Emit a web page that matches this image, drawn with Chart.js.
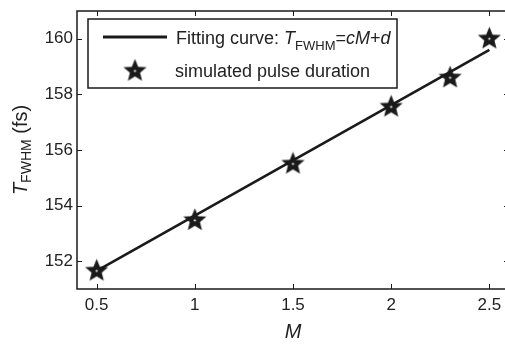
<!DOCTYPE html>
<html>
<head>
<meta charset="utf-8">
<script src="https://cdn.jsdelivr.net/npm/chart.js@4.4.1/dist/chart.umd.min.js"></script>
<style>
  html, body { margin: 0; padding: 0; background: #fff; overflow: hidden; }
  #wrap { width: 520px; height: 344px; }
</style>
</head>
<body>
<div id="wrap"><canvas id="fwhmChart" width="520" height="344"></canvas></div>
<script>
// values
var simM = [0.5, 1, 1.5, 2, 2.3, 2.5];
var simT = [151.65, 153.47, 155.5, 157.55, 158.6, 160.0];
var fitM = [0.5, 2.5];
var fitT = [151.65, 159.6];
var xTicks = [0.5, 1, 1.5, 2, 2.5];
var yTicks = [152, 154, 156, 158, 160];
var xRange = [0.4, 2.6];
var yRange = [151, 161];

var ink = '#1a1a1a';
var fontName = "'Liberation Sans', Arial, sans-serif";

// pentagram marker
function makeStar(r) {
  var size = Math.ceil(r * 2 + 4);
  var c = document.createElement('canvas');
  c.width = size; c.height = size;
  var g = c.getContext('2d');
  var cx = size / 2, cy = size / 2, ri = r * 0.44;
  g.beginPath();
  for (var i = 0; i < 10; i++) {
    var rad = (i % 2 === 0) ? r : ri;
    var a = -Math.PI / 2 + i * Math.PI / 5;
    var px = cx + rad * Math.cos(a), py = cy + rad * Math.sin(a);
    if (i === 0) g.moveTo(px, py); else g.lineTo(px, py);
  }
  g.closePath();
  g.fillStyle = ink;
  g.fill();
  g.lineWidth = 1.2;
  g.strokeStyle = ink;
  g.stroke();
  g.beginPath();
  g.arc(cx, cy, 1.1, 0, Math.PI * 2);
  g.fillStyle = '#fff';
  g.fill();
  return c;
}
var star = makeStar(10.5);

// draws a run of text pieces (for subscripts / italics)
function runWidth(ctx, runs) {
  var w = 0;
  runs.forEach(function(r) { ctx.font = r.font; w += ctx.measureText(r.t).width; });
  return w;
}
function drawRuns(ctx, runs, x, y) {
  ctx.textBaseline = 'alphabetic';
  ctx.textAlign = 'left';
  runs.forEach(function(r) {
    ctx.font = r.font;
    ctx.fillText(r.t, x, y + (r.dy || 0));
    x += ctx.measureText(r.t).width;
  });
}

var framePlugin = {
  id: 'frame',
  afterDraw: function(chart) {
    var ctx = chart.ctx, a = chart.chartArea;
    var sx = chart.scales.x, sy = chart.scales.y;
    ctx.save();
    ctx.strokeStyle = ink;
    ctx.fillStyle = ink;

    // box
    ctx.lineWidth = 1.5;
    ctx.strokeRect(a.left, a.top, a.right - a.left, a.bottom - a.top);

    // inward ticks on all sides
    ctx.lineWidth = 1;
    ctx.beginPath();
    xTicks.forEach(function(v) {
      var px = Math.round(sx.getPixelForValue(v)) + 0.5;
      ctx.moveTo(px, a.bottom); ctx.lineTo(px, a.bottom - 5);
      ctx.moveTo(px, a.top); ctx.lineTo(px, a.top + 5);
    });
    yTicks.forEach(function(v) {
      var py = Math.round(sy.getPixelForValue(v)) + 0.5;
      ctx.moveTo(a.left, py); ctx.lineTo(a.left + 5, py);
      ctx.moveTo(a.right, py); ctx.lineTo(a.right - 5, py);
    });
    ctx.stroke();

    // legend
    var lx = a.left + 11, ly = a.top + 8, lw = 309, lh = 69;
    ctx.fillStyle = '#fff';
    ctx.fillRect(lx, ly, lw, lh);
    ctx.lineWidth = 1.5;
    ctx.strokeStyle = ink;
    ctx.strokeRect(lx, ly, lw, lh);

    ctx.lineWidth = 3;
    ctx.beginPath();
    ctx.moveTo(lx + 15, ly + 18);
    ctx.lineTo(lx + 79, ly + 18);
    ctx.stroke();
    ctx.drawImage(star, lx + 47 - star.width / 2, ly + 52 - star.height / 2);

    ctx.fillStyle = '#222';
    var f = "18px " + fontName, fi = "italic 18px " + fontName, fs = "13px " + fontName;
    drawRuns(ctx, [
      { t: 'Fitting curve: ', font: f },
      { t: 'T', font: fi },
      { t: 'FWHM', font: fs, dy: 6 },
      { t: '=', font: f },
      { t: 'cM', font: fi },
      { t: '+', font: f },
      { t: 'd', font: fi }
    ], lx + 88, ly + 25);
    drawRuns(ctx, [{ t: 'simulated pulse duration', font: f }], lx + 87, ly + 58);

    // axis titles
    var tf = "20px " + fontName, tfi = "italic 20px " + fontName, tfs = "14px " + fontName;
    ctx.textAlign = 'center';
    ctx.font = tfi;
    ctx.fillText('M', sx.getPixelForValue(1.5), 338);

    var yRuns = [
      { t: 'T', font: tfi },
      { t: 'FWHM', font: tfs, dy: 4 },
      { t: ' (fs)', font: tf }
    ];
    var w = runWidth(ctx, yRuns);
    ctx.translate(27, (a.top + a.bottom) / 2);
    ctx.rotate(-Math.PI / 2);
    drawRuns(ctx, yRuns, -w / 2, 0);
    ctx.restore();
  }
};

var ctx = document.getElementById('fwhmChart');
new Chart(ctx, {
  type: 'scatter',
  data: {
    datasets: [
      {
        label: 'simulated pulse duration',
        data: simM.map(function(m, i) { return { x: m, y: simT[i] }; }),
        pointStyle: star,
        pointRadius: 10,
        showLine: false
      },
      {
        label: 'Fitting curve',
        data: fitM.map(function(m, i) { return { x: m, y: fitT[i] }; }),
        showLine: true,
        borderColor: ink,
        borderWidth: 2.6,
        pointRadius: 0,
        fill: false
      }
    ]
  },
  options: {
    responsive: false,
    animation: false,
    events: [],
    layout: { padding: { left: 0, top: 10, right: 0, bottom: 0 } },
    plugins: { legend: { display: false }, tooltip: { enabled: false } },
    scales: {
      x: {
        type: 'linear',
        min: xRange[0], max: xRange[1],
        grid: { display: false, drawTicks: false },
        border: { display: false },
        afterBuildTicks: function(s) { s.ticks = xTicks.map(function(v) { return { value: v }; }); },
        afterFit: function(s) { s.height = 55; s.paddingLeft = 0; s.paddingRight = 0; },
        ticks: {
          padding: 6,
          color: '#222',
          font: { family: fontName, size: 17 },
          maxRotation: 0,
          callback: function(v) { return String(v); }
        }
      },
      y: {
        type: 'linear',
        min: yRange[0], max: yRange[1],
        grid: { display: false, drawTicks: false },
        border: { display: false },
        afterBuildTicks: function(s) { s.ticks = yTicks.map(function(v) { return { value: v }; }); },
        afterFit: function(s) { s.width = 77; s.paddingTop = 0; s.paddingBottom = 0; },
        ticks: {
          padding: 4,
          color: '#222',
          font: { family: fontName, size: 17 },
          callback: function(v) { return String(v); }
        }
      }
    }
  },
  plugins: [framePlugin]
});
</script>
</body>
</html>
